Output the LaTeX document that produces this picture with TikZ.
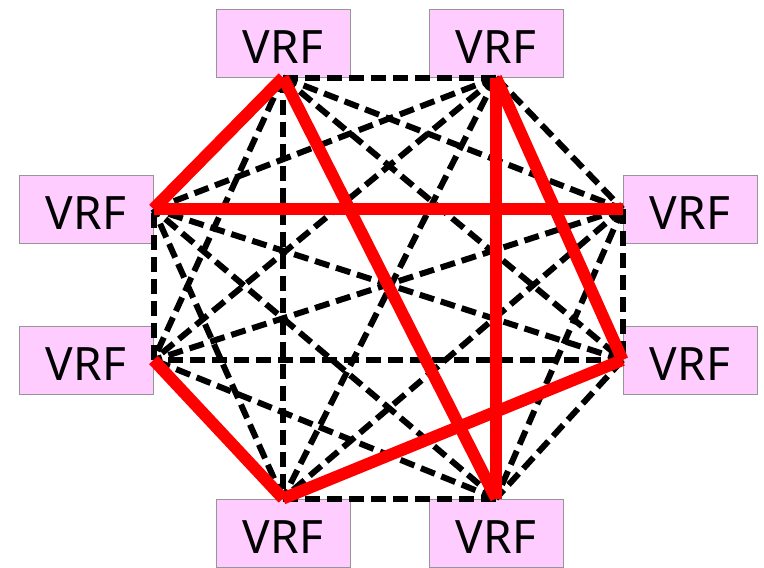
\documentclass[tikz,border=0pt]{standalone}
\usepackage{fontspec}
\setmainfont{Noto Sans}
\definecolor{vrfpink}{RGB}{255,204,255}
\definecolor{vrfgray}{RGB}{150,150,150}
\begin{document}
\begin{tikzpicture}[x=1pt, y=-1pt,
        vrf/.style={rectangle, draw=vrfgray, line width=1pt, fill=vrfpink, minimum width=134pt,
            minimum height=68pt, inner sep=0pt, text height=41pt, text depth=0pt,
            font=\fontsize{46}{50}\selectfont},
        mesh/.style={black, line width=6pt, dash pattern=on 15pt off 7pt},
        ring/.style={red, line width=12pt}]

    \useasboundingbox (0, 0) rectangle (764, 568);

    \node[vrf] (v1) at (283, 43) {VRF};
    \node[vrf] (v2) at (496, 43) {VRF};
    \node[vrf] (v3) at (690, 209) {VRF};
    \node[vrf] (v4) at (690, 360) {VRF};
    \node[vrf] (v5) at (496, 533) {VRF};
    \node[vrf] (v6) at (283, 533) {VRF};
    \node[vrf] (v7) at (86, 360) {VRF};
    \node[vrf] (v8) at (86, 209) {VRF};

    \coordinate (p1) at (v1.south);
    \coordinate (p2) at (v2.south);
    \coordinate (p3) at (v3.west);
    \coordinate (p4) at (v4.west);
    \coordinate (p5) at (v5.north);
    \coordinate (p6) at (v6.north);
    \coordinate (p7) at (v7.east);
    \coordinate (p8) at (v8.east);

    % full mesh
    \foreach \a/\b in {1/2, 1/3, 1/4, 1/6, 1/7, 2/3, 2/6, 2/7, 2/8, 3/4, 3/5,
            3/6, 3/7, 4/5, 4/7, 4/8, 5/6, 5/7, 5/8, 6/8, 7/8}
        \draw[mesh] (p\a) -- (p\b);

    % red ring
    \foreach \a/\b in {1/8, 1/5, 2/5, 2/4, 8/3, 7/6, 6/4}
        \draw[ring] (p\a) -- (p\b);
\end{tikzpicture}
\end{document}
